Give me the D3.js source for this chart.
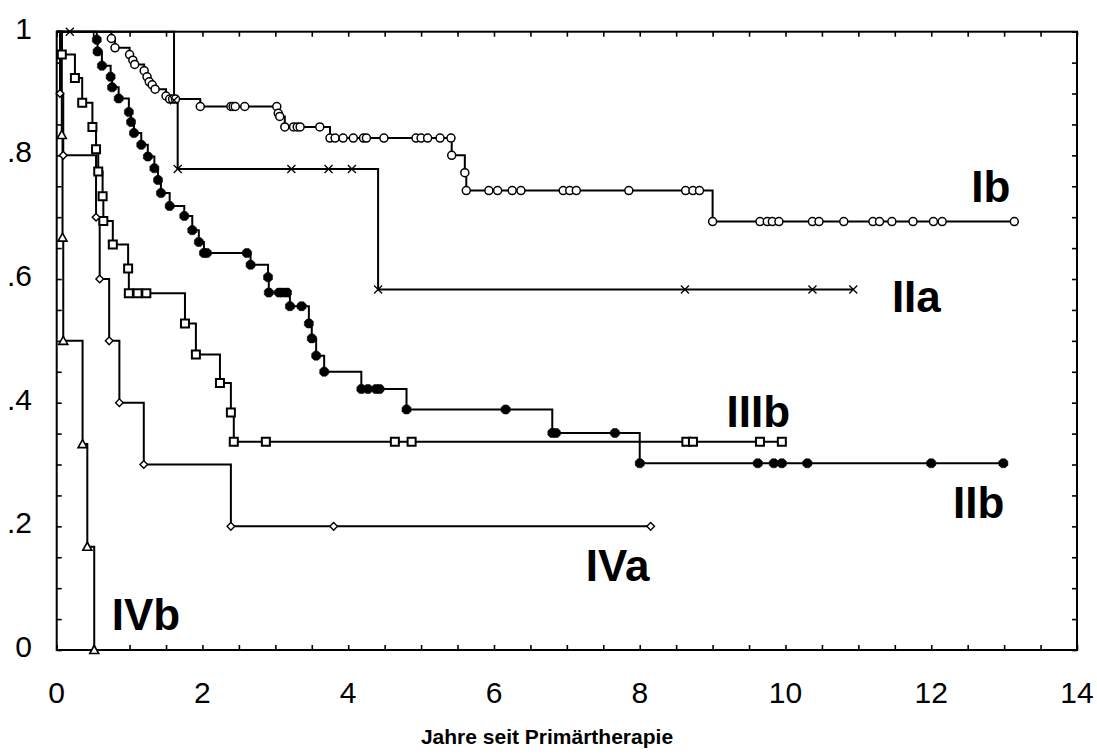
<!DOCTYPE html>
<html><head><meta charset="utf-8">
<script src="https://cdn.jsdelivr.net/npm/d3@7"></script>
<style>body{margin:0;background:#fff}svg{display:block}</style>
</head><body><svg id="c" width="1097" height="756"></svg>
<script>
// ---------- data ----------
const xTickValues = [0, 2, 4, 6, 8, 10, 12, 14];
const yTickValues = [0, 0.2, 0.4, 0.6, 0.8, 1];
const yTickLabels = ["0", ".2", ".4", ".6", ".8", "1"];
const xAxisTitle = "Jahre seit Primärtherapie";
const stageNames = ["Ib", "IIa", "IIb", "IIIb", "IVa", "IVb"];
// label anchor in data units (years, survival)
const stageLabelAt = [[12.55, 0.725], [11.46, 0.547], [12.30, 0.2135], [9.19, 0.361], [7.26, 0.112], [0.755, 0.032]];

// each point: [years, cumulative survival] (events and censored observations)
const curveIb = [[0.75,0.989],[0.80,0.974],[1.00,0.963],[1.045,0.954],[1.07,0.947],[1.20,0.937],[1.24,0.927],[1.27,0.919],[1.31,0.914],[1.35,0.907],[1.50,0.896],[1.55,0.891],[1.59,0.891],[1.63,0.891],[1.97,0.879],[2.39,0.879],[2.42,0.879],[2.45,0.879],[2.58,0.879],[3.02,0.879],[3.04,0.868],[3.06,0.863],[3.13,0.846],[3.25,0.846],[3.30,0.846],[3.34,0.846],[3.61,0.846],[3.75,0.828],[3.82,0.828],[3.93,0.828],[4.07,0.828],[4.21,0.828],[4.25,0.828],[4.49,0.828],[4.93,0.828],[5.00,0.828],[5.09,0.828],[5.26,0.828],[5.41,0.828],[5.42,0.800],[5.60,0.772],[5.62,0.743],[5.93,0.743],[6.05,0.743],[6.25,0.743],[6.37,0.743],[6.95,0.743],[7.04,0.743],[7.13,0.743],[7.85,0.743],[8.63,0.743],[8.73,0.743],[8.82,0.743],[9.00,0.693],[9.65,0.693],[9.75,0.693],[9.82,0.693],[9.91,0.693],[10.37,0.693],[10.46,0.693],[10.80,0.693],[11.20,0.693],[11.29,0.693],[11.46,0.693],[11.75,0.693],[12.03,0.693],[12.15,0.693],[13.14,0.693]];
const curveIIa = [[0.18,1.0],[1.61,0.889],[1.66,0.778],[3.22,0.778],[3.73,0.778],[4.05,0.778],[4.41,0.583],[8.62,0.583],[10.37,0.583],[10.93,0.583]];
const curveIIb = [[0.55,0.987],[0.56,0.968],[0.62,0.945],[0.74,0.927],[0.76,0.910],[0.85,0.892],[0.99,0.870],[1.02,0.854],[1.06,0.836],[1.16,0.817],[1.25,0.798],[1.34,0.779],[1.39,0.760],[1.43,0.739],[1.55,0.718],[1.75,0.702],[1.86,0.679],[1.95,0.660],[2.02,0.642],[2.06,0.642],[2.61,0.642],[2.66,0.623],[2.90,0.603],[2.91,0.578],[3.05,0.578],[3.10,0.578],[3.16,0.578],[3.20,0.556],[3.36,0.556],[3.46,0.528],[3.50,0.504],[3.56,0.476],[3.67,0.450],[4.18,0.422],[4.27,0.422],[4.38,0.422],[4.43,0.422],[4.80,0.389],[6.16,0.389],[6.80,0.351],[6.85,0.351],[7.66,0.351],[8.00,0.302],[9.62,0.302],[9.84,0.302],[9.95,0.302],[10.30,0.302],[12.00,0.302],[12.99,0.302]];
const curveIIIb = [[0.07,0.963],[0.25,0.925],[0.35,0.885],[0.49,0.846],[0.54,0.810],[0.57,0.774],[0.63,0.734],[0.64,0.694],[0.77,0.656],[0.98,0.617],[0.99,0.577],[1.11,0.577],[1.23,0.577],[1.76,0.528],[1.91,0.478],[2.24,0.432],[2.39,0.384],[2.43,0.337],[2.87,0.337],[4.64,0.337],[4.87,0.337],[8.64,0.337],[8.73,0.337],[9.65,0.337],[9.95,0.337]];
const curveIVa = [[0.045,0.9],[0.09,0.8],[0.54,0.7],[0.59,0.6],[0.72,0.5],[0.86,0.4],[1.195,0.3],[2.39,0.2],[3.80,0.2],[8.15,0.2]];
const curveIVb = [[0.07,0.833],[0.08,0.667],[0.09,0.5],[0.355,0.333],[0.42,0.167],[0.515,0]];

// ---------- drawing ----------
const svg = d3.select("#c");
svg.append("rect").attr("width",1097).attr("height",756).attr("fill","#fff");
const L = 56.7, R = 1077, T = 31.7, B = 650;
const x = d3.scaleLinear().domain([0,14]).range([L,R]);
const y = d3.scaleLinear().domain([0,1]).range([B,T]);

const tickFont = "'Liberation Sans Narrow', 'Liberation Sans', sans-serif";

// inward minor ticks on all four sides
const xMinor = d3.range(0, 14.001, 0.5);
const yMinor = d3.range(0, 1.0001, 0.05);
function styleAxis(g){ g.select(".domain").remove(); g.selectAll(".tick line").attr("stroke","#000").attr("stroke-width",1.6); g.selectAll("text").remove(); }
svg.append("g").attr("transform",`translate(0,${B})`).call(d3.axisBottom(x).tickValues(xMinor).tickSize(-5)).call(styleAxis);
svg.append("g").attr("transform",`translate(0,${T})`).call(d3.axisTop(x).tickValues(xMinor).tickSize(-5)).call(styleAxis);
svg.append("g").attr("transform",`translate(${L},0)`).call(d3.axisLeft(y).tickValues(yMinor).tickSize(-5)).call(styleAxis);
svg.append("g").attr("transform",`translate(${R},0)`).call(d3.axisRight(y).tickValues(yMinor).tickSize(-5)).call(styleAxis);

svg.append("rect").attr("x",L).attr("y",T).attr("width",R-L).attr("height",B-T)
  .attr("fill","none").attr("stroke","#000").attr("stroke-width",2);

// tick labels
svg.append("g").selectAll("text").data(xTickValues).join("text")
  .attr("x", d => x(d)).attr("y", 703).attr("text-anchor","middle")
  .attr("font-family", tickFont).attr("font-size", 30).text(d => d);
svg.append("g").selectAll("text").data(yTickValues).join("text")
  .attr("x", 32).attr("y", d => y(d) + 7).attr("text-anchor","end")
  .attr("font-family", tickFont).attr("font-size", 30).text((d,i) => yTickLabels[i]);

svg.append("text").attr("x",547).attr("y",744).attr("text-anchor","middle")
  .attr("font-family","'Liberation Sans', Arial, sans-serif").attr("font-weight","bold")
  .attr("font-size",21).text(xAxisTitle);

// curves
const series = [curveIb, curveIIa, curveIIb, curveIIIb, curveIVa, curveIVb];
const line = d3.line().x(d => x(d[0])).y(d => y(d[1])).curve(d3.curveStepAfter);
svg.append("g").selectAll("path").data(series).join("path")
  .attr("d", d => line([[0,1]].concat(d)))
  .attr("fill","none").attr("stroke","#000").attr("stroke-width",2);

// marker shapes
const shapeCircle = "M4,0A4,4 0 1,1 -4,0A4,4 0 1,1 4,0Z";
const shapeX = "M-4,-4L4,4M-4,4L4,-4";
const shapeBlob = "M-2,-4.5L2,-4.5L4.5,-2L4.5,2L2,4.5L-2,4.5L-4.5,2L-4.5,-2Z";
const shapeSquare = "M-4,-4L4,-4L4,4L-4,4Z";
const shapeDiamond = "M0,-3.8L3.8,0L0,3.8L-3.8,0Z";
const shapeTriangle = "M0,-4.5L4.5,3.5L-4.5,3.5Z";
const markerDefs = [
  {d: shapeCircle,   fill: "#fff", sw: 1.5},  // Ib
  {d: shapeX,        fill: "none", sw: 1.3},  // IIa
  {d: shapeBlob,     fill: "#000", sw: 0.5},  // IIb
  {d: shapeSquare,   fill: "#fff", sw: 2},    // IIIb
  {d: shapeDiamond,  fill: "#fff", sw: 1.4},  // IVa
  {d: shapeTriangle, fill: "#fff", sw: 1.6}   // IVb
];
series.forEach((s, i) => {
  const m = markerDefs[i];
  svg.append("g").selectAll("path").data(s).join("path")
    .attr("transform", d => `translate(${x(d[0])},${y(d[1])})`)
    .attr("d", m.d)
    .attr("fill", m.fill).attr("stroke","#000").attr("stroke-width",m.sw);
});

// stage labels
svg.append("g").selectAll("text").data(stageNames).join("text")
  .attr("x", (d,i) => x(stageLabelAt[i][0])).attr("y", (d,i) => y(stageLabelAt[i][1]))
  .attr("font-family","'Liberation Sans', Arial, sans-serif").attr("font-weight","bold")
  .attr("font-size",44).text(d => d);
</script>
</body></html>
